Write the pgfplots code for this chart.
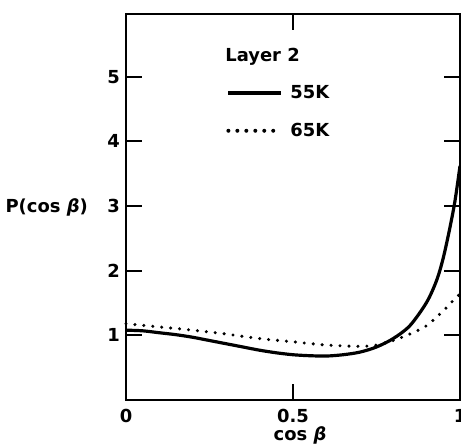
\documentclass[border=0pt]{standalone}
\usepackage{fontspec}
\setmainfont{DejaVu Sans}
\usepackage{pgfplots}
\pgfplotsset{compat=1.18}
\usetikzlibrary{calc}
\begin{document}
\begin{tikzpicture}[font=\fontsize{18}{21}\selectfont\bfseries]
\begin{axis}[
  name=ax,
  scale only axis,
  width=334bp, height=386bp,
  xmin=0, xmax=1, ymin=0, ymax=5.97,
  xtick={0,0.5,1}, ytick={1,2,3,4,5},
  xticklabels={0,0.5,1},
  tick align=inside,
  major tick length=16bp,
  axis line style={line width=2pt},
  every tick/.style={line width=1.8pt, black},
  /pgf/number format/assume math mode=true,
  tick label style={font=\fontsize{18}{21}\selectfont\bfseries, inner sep=0pt},
  xticklabel style={anchor=north, yshift=-9bp},
  yticklabel style={anchor=east, xshift=-6bp},
  xlabel={cos \textit{β}},
  ylabel={P(cos \textit{β})},
  xlabel style={at={(rel axis cs:0.5,0)}, anchor=base, yshift=-40bp, xshift=7bp, inner sep=0pt},
  ylabel style={rotate=-90, at={(rel axis cs:0,0.5)}, anchor=east, inner sep=0pt, xshift=-38bp},
  legend style={at={(rel axis cs:0.300,0.8145)}, anchor=north west, draw=none, fill=none,
    inner sep=0pt, row sep=23bp, column sep=7bp, nodes={inner sep=0pt},
    font=\fontsize{18}{21}\selectfont\bfseries},
  legend cell align=left,
  legend image code/.code={\draw[#1, line width=4pt] (0bp,0bp) -- (53bp,0bp);},
  clip=false,
]
\addplot[black, line width=3.2pt, smooth, tension=0.5] coordinates {
(0,1.08) (0.05,1.07) (0.1,1.04) (0.15,1.01) (0.2,0.97) (0.25,0.92) (0.3,0.87) (0.35,0.82)
(0.4,0.77) (0.45,0.73) (0.5,0.70) (0.55,0.685) (0.6,0.68) (0.65,0.70) (0.7,0.74)
(0.75,0.82) (0.8,0.95) (0.85,1.15) (0.9,1.51) (0.93,1.85) (0.95,2.2) (0.97,2.67)
(0.985,3.08) (1,3.62)
};
\addlegendentry{55K}
\addplot[black, line width=3.4pt, line cap=round, dash pattern=on 0pt off 9pt, smooth, tension=0.5] coordinates {
(0,1.18) (0.1,1.13) (0.2,1.08) (0.3,1.02) (0.4,0.95) (0.5,0.90) (0.6,0.85) (0.7,0.83)
(0.75,0.85) (0.8,0.92) (0.85,1.02) (0.9,1.15) (0.95,1.38) (0.98,1.54) (1,1.64)
};
\addlegendentry{65K}
\node[anchor=base west, inner sep=0pt] at (rel axis cs:0.297,0.876) {Layer 2};
\end{axis}
\pgfresetboundingbox
\path[use as bounding box] ($(ax.south west)+(-126bp,-44bp)$) rectangle ($(ax.north east)+(1bp,14bp)$);
\end{tikzpicture}
\end{document}
